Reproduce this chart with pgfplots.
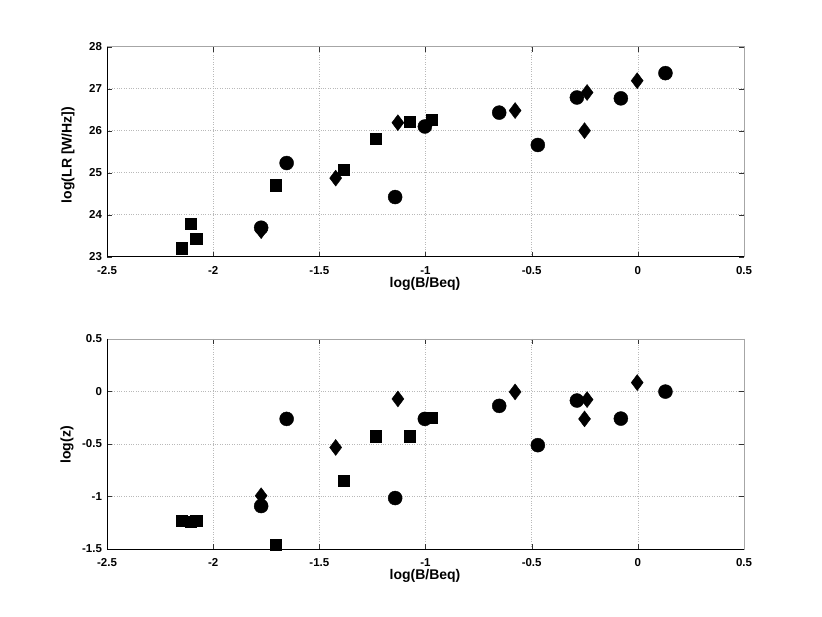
\documentclass[border=0pt]{standalone}
\usepackage{fontspec}
\setmainfont{Liberation Sans}
\usepackage{pgfplots}
\pgfplotsset{compat=1.18}

\pgfplotsset{mlab/.style={
  scale only axis, width=637pt, height=210pt,
  anchor=south west, clip=false,
  xmin=-2.5, xmax=0.5,
  xtick={-2.5,-2,-1.5,-1,-0.5,0,0.5},
  grid=major, major grid style={dotted, gray!55},
  tick align=inside, major tick length=5pt,
  axis line style={gray!70},
  tick style={black!80},
  every tick label/.append style={font=\fontsize{11.5}{12}\selectfont\bfseries},
  /pgf/number format/assume math mode=true,
  x tick label style={yshift=-6pt},
  y tick label style={xshift=-1.5pt},
}}
\pgfplotsset{circ/.style={only marks, mark=*, mark size=7pt, mark options={fill=black, draw=black}},
             sq/.style={only marks, mark=square*, mark size=5.6pt, mark options={fill=black, draw=black}},
             dia/.style={only marks, mark=diamond*, mark size=8pt, mark options={fill=black, draw=black}}}

\begin{document}
\begin{tikzpicture}
\path[use as bounding box] (0,0) rectangle (822pt,617pt);

% upper panel: radio luminosity
\begin{axis}[mlab, at={(107pt,360.3pt)},
  ymin=23, ymax=28, ytick={23,24,25,26,27,28}]
\addplot[sq] coordinates {(-2.147,23.20) (-2.107,23.79) (-2.080,23.42) (-1.705,24.70)
  (-1.386,25.08) (-1.234,25.81) (-1.075,26.21) (-0.969,26.27)};
\addplot[dia] coordinates {(-1.774,23.62) (-1.423,24.87) (-1.130,26.19) (-0.578,26.48)
  (-0.251,26.00) (-0.239,26.91) (-0.003,27.19)};
\addplot[circ] coordinates {(-1.774,23.69) (-1.654,25.23) (-1.143,24.42) (-1.003,26.10)
  (-0.653,26.43) (-0.471,25.66) (-0.287,26.79) (-0.080,26.77) (0.130,27.37)};
\draw[black] (rel axis cs:0,1) -- (rel axis cs:0,0) -- (rel axis cs:1,0);
\end{axis}

% lower panel: redshift
\begin{axis}[mlab, at={(107pt,68pt)},
  ymin=-1.5, ymax=0.5, ytick={-1.5,-1,-0.5,0,0.5}]
\addplot[sq] coordinates {(-2.147,-1.23) (-2.107,-1.243) (-2.080,-1.23) (-1.705,-1.456)
  (-1.386,-0.847) (-1.234,-0.425) (-1.075,-0.425) (-0.969,-0.251)};
\addplot[dia] coordinates {(-1.774,-0.993) (-1.423,-0.533) (-1.130,-0.071) (-0.578,-0.004)
  (-0.251,-0.261) (-0.239,-0.077) (-0.003,0.085)};
\addplot[circ] coordinates {(-1.774,-1.091) (-1.654,-0.261) (-1.143,-1.015) (-1.003,-0.261)
  (-0.653,-0.137) (-0.471,-0.511) (-0.287,-0.086) (-0.080,-0.258) (0.130,-0.001)};
\draw[black] (rel axis cs:0,1) -- (rel axis cs:0,0) -- (rel axis cs:1,0);
\end{axis}

% axis titles
\begin{scope}[every node/.style={font=\fontsize{14}{16}\selectfont\bfseries}]
\node[rotate=90] at (68pt,462pt) {log(LR [W/Hz])};
\node at (425pt,333pt) {log(B/Beq)};
\node[rotate=90] at (67pt,172pt) {log(z)};
\node at (425pt,41pt) {log(B/Beq)};
\end{scope}
\end{tikzpicture}
\end{document}
